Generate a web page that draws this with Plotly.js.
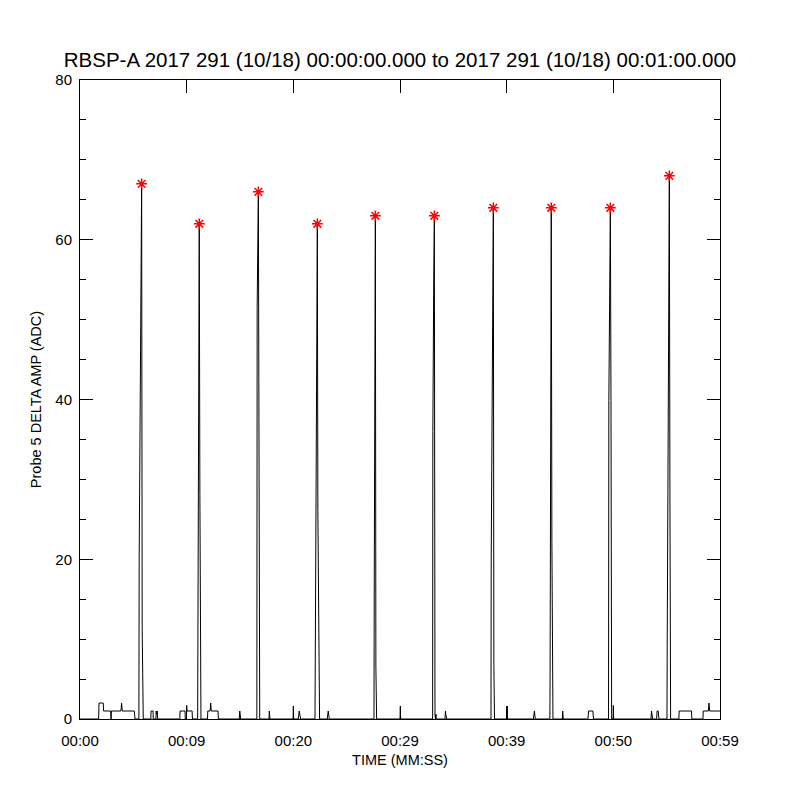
<!DOCTYPE html>
<html>
<head>
<meta charset="utf-8">
<script src="https://cdn.plot.ly/plotly-3.0.1.min.js"></script>
<style>html,body{margin:0;padding:0;background:#fff;}#chart{width:800px;height:800px;}</style>
</head>
<body>
<div id="chart"></div>
<script>
// Time in seconds from 00:00:00
var TIME_S = [
 0,1.75,1.78,2.18,2.21,2.88,2.91,2.94,3.84,3.90,3.96,5.09,5.16,
 5.52,5.55,5.68,5.78,5.83,5.93,
 6.64,6.66,6.85,6.87,7.12,7.14,7.18,7.24,7.28,
 9.36,9.38,9.85,9.87,9.98,10.0,10.04,10.51,10.54,
 11.03,11.05,11.10,11.16,11.18,11.24,11.34,
 11.95,11.98,12.20,12.25,12.31,12.94,12.97,
 14.93,14.98,15.06,
 16.58,16.61,16.72,16.77,16.85,
 17.72,17.75,17.80,
 19.98,20.0,20.03,
 20.47,20.50,20.55,20.62,20.69,
 22.03,22.05,22.12,22.25,22.30,22.40,22.43,22.46,
 23.18,23.22,23.27,23.37,
 27.56,27.59,27.64,27.69,27.74,27.81,
 30.0,30.03,30.06,
 33.06,33.08,33.16,33.22,33.28,33.33,33.37,33.40,
 34.22,34.26,34.30,34.38,
 38.53,38.55,38.65,38.75,38.80,38.86,
 40.03,40.06,40.09,
 42.50,42.55,42.60,42.68,
 44.05,44.07,44.12,44.16,44.18,44.24,44.34,
 45.22,45.25,45.31,
 47.62,47.68,48.08,48.14,
 49.55,49.58,49.66,49.72,49.78,49.84,
 49.98,50.0,50.03,
 53.53,53.58,53.69,
 54.06,54.10,54.20,54.28,
 55.03,55.05,55.12,55.19,55.25,55.31,55.37,
 56.14,56.17,57.33,57.36,
 58.40,58.43,58.90,58.97,59.03,60
];
var AMP_ADC = [
 0,0,2,2,1,1,0,1,1,2,1,1,0,
 0,20.5,52,67,11,0,
 0,1,1,0,0,1,0.6,1,0,
 0,1,1,0,0,1.7,1,1,0,
 0,7,28,57,62,28,0,
 0,1,1,2,1,1,0,
 0,1,0,
 0,51.5,66,41.5,0,
 0,1,0,
 0,1.6,0,
 0,0.5,1,0.5,0,
 0,6,36,62,26,0,0.6,0,
 0,0.5,1,0,
 0,18.4,38,63,6.5,0,
 0,1.6,0,
 0,36,54.6,63,0.5,0,0.6,0,
 0,1,0.5,0,
 0,19.7,51.5,64,6.8,0,
 0,1.6,0,
 0,0.5,1,0,
 0,5.1,22.2,54.1,64,22.2,0,
 0,1,0,
 0,1,1,0,
 0,39.9,53.5,64,39.9,0,
 0,1.7,0,
 0,1,0,
 0,1,1,0,
 0,9,25.7,41.2,68,25.7,0,
 0,1,1,0,
 0,1,1,2,1,1
];
// Detected peaks (red asterisks)
var PEAK_T   = [5.78,11.18,16.72,22.25,27.69,33.22,38.75,44.18,49.72,55.25];
var PEAK_AMP = [67,62,66,62,63,63,64,64,64,68];
// Axis ticks
var X_TICK_VALS = [0,10,20,30,40,50,60];
var X_TICK_TEXT = ["00:00","00:09","00:20","00:29","00:39","00:50","00:59"];
var Y_TICK_VALS = [0,20,40,60,80];

var FONT = "Liberation Sans, Arial, sans-serif";

var traces = [
 {x: TIME_S, y: AMP_ADC, type: "scatter", mode: "lines",
  line: {color: "#000", width: 1}, hoverinfo: "skip"},
 {x: PEAK_T, y: PEAK_AMP, type: "scatter", mode: "markers",
  marker: {symbol: "asterisk-open", size: 9, color: "#ff0000", line: {color: "#ff0000", width: 1.5}},
  cliponaxis: false}
];

var layout = {
 width: 800, height: 800,
 margin: {l: 80, r: 80, t: 80, b: 81},
 paper_bgcolor: "#fff", plot_bgcolor: "#fff",
 showlegend: false,
 font: {family: FONT, color: "#000", size: 14},
 title: {text: "RBSP-A 2017 291 (10/18) 00:00:00.000 to 2017 291 (10/18) 00:01:00.000",
   font: {family: FONT, size: 20.5, color: "#000"},
   x: 0.5, xanchor: "center", xref: "container", y: 0.925, yanchor: "middle", yref: "container"},
 xaxis: {
   range: [0, 60], tickmode: "array", tickvals: X_TICK_VALS, ticktext: X_TICK_TEXT,
   ticks: "inside", ticklen: 13, tickwidth: 1, tickcolor: "#000",
   showline: true, linecolor: "#000", linewidth: 1, mirror: "allticks",
   showgrid: false, zeroline: false, ticklabelstandoff: 8,
   tickfont: {family: FONT, size: 15, color: "#000"},
   title: {text: "TIME (MM:SS)", font: {family: FONT, size: 14.5, color: "#000"}, standoff: 6}
 },
 yaxis: {
   range: [0, 80], tickmode: "array", tickvals: Y_TICK_VALS,
   ticks: "inside", ticklen: 13, tickwidth: 1, tickcolor: "#000",
   minor: {dtick: 5, tick0: 0, ticks: "inside", ticklen: 6, tickcolor: "#000", showgrid: false},
   showline: true, linecolor: "#000", linewidth: 1, mirror: "allticks",
   showgrid: false, zeroline: false, ticklabelstandoff: 4,
   tickfont: {family: FONT, size: 15, color: "#000"},
   title: {text: "Probe 5 DELTA AMP (ADC)", font: {family: FONT, size: 14.5, color: "#000"}, standoff: 10}
 }
};

Plotly.newPlot("chart", traces, layout, {displayModeBar: false, staticPlot: true});
</script>
</body>
</html>
